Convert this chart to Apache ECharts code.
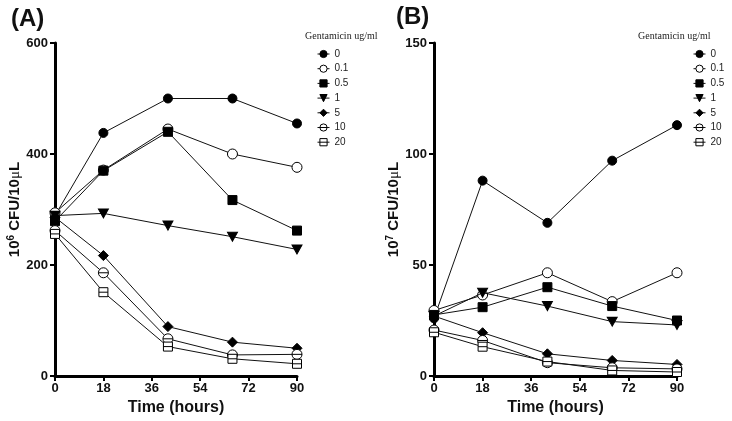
<!DOCTYPE html>
<html>
<head>
<meta charset="utf-8">
<script src="https://cdn.jsdelivr.net/npm/echarts@6/dist/echarts.min.js"></script>
<style>html,body{margin:0;padding:0;background:#fff}#c{width:732px;height:421px}</style>
</head>
<body>
<div id="c"></div>
<script>
const times = [0, 18, 42, 66, 90];
const xTicks = [0, 18, 36, 54, 72, 90];
const doses = ['0', '0.1', '0.5', '1', '5', '10', '20'];

// Panel A: 10^6 CFU/10uL
const a0  = [289, 438, 500, 500, 455];
const a01 = [294, 371, 445, 400, 376];
const a05 = [279, 370, 440, 317, 262];
const a1  = [289, 293, 271, 251, 228];
const a5  = [286, 217, 89, 61, 50];
const a10 = [262, 186, 67, 38, 39];
const a20 = [256, 151, 53, 31, 22];

// Panel B: 10^7 CFU/10uL
const b0  = [26, 88, 69, 97, 113];
const b01 = [29.5, 36.5, 46.5, 33.5, 46.5];
const b05 = [27.5, 31, 40, 31.5, 25];
const b1  = [27, 37.5, 31.5, 24.5, 23];
const b5  = [27, 19.5, 10, 7, 5.2];
const b10 = [20.7, 16, 6, 3.7, 3.2];
const b20 = [19.7, 13.2, 6.5, 2.5, 1.8];

const seriesA = [a0, a01, a05, a1, a5, a10, a20];
const seriesB = [b0, b01, b05, b1, b5, b10, b20];

const FONT = "'Liberation Sans', Arial, sans-serif";
const styles = [
  {symbol: 'circle', size: 9, fill: '#000'},
  {symbol: 'circle', size: 10, fill: '#fff'},
  {symbol: 'rect', size: 9, fill: '#000'},
  {symbol: 'triangle', size: [10, 9], fill: '#000', rotate: 180},
  {symbol: 'diamond', size: [10, 10], fill: '#000'},
  {symbol: 'path://M0,5A5,5,0,1,1,10,5A5,5,0,1,1,0,5ZM0,5L10,5', size: 10, fill: '#fff'},
  {symbol: 'path://M0,0L10,0L10,10L0,10ZM0,5L10,5', size: 9, fill: '#fff'}
];

function mk(data, i, idx) {
  const s = styles[i];
  return {
    name: doses[i], type: 'line', xAxisIndex: idx, yAxisIndex: idx,
    data: times.map((t, k) => [t, data[k]]),
    symbol: s.symbol, symbolSize: s.size, symbolRotate: s.rotate || 0,
    itemStyle: {color: s.fill, borderColor: '#000', borderWidth: 1},
    lineStyle: {color: '#111', width: 1},
    z: 2 + i, animation: false
  };
}

const series = [];
seriesA.forEach((d, i) => series.push(mk(d, i, 0)));
seriesB.forEach((d, i) => series.push(mk(d, i, 1)));

function xAx(gi) {
  return {
    type: 'value', gridIndex: gi, min: 0, max: 90, interval: 18,
    name: 'Time (hours)', nameLocation: 'middle', nameGap: 22,
    nameTextStyle: {fontFamily: FONT, fontWeight: 'bold', fontSize: 16, color: '#111'},
    axisLine: {show: true, lineStyle: {color: '#000', width: 3}},
    axisTick: {show: true, length: 5, lineStyle: {color: '#000', width: 2}},
    axisLabel: {fontFamily: FONT, fontWeight: 'bold', fontSize: 13, color: '#111', margin: 6,
      formatter: v => xTicks.indexOf(v) >= 0 ? String(v) : ''},
    splitLine: {show: false}
  };
}
function yAx(gi, max, interval, exp, gap) {
  return {
    type: 'value', gridIndex: gi, min: 0, max: max, interval: interval,
    name: '{b|10}{s|' + exp + '}{b| CFU/10}{m|μ}{b|L}', nameLocation: 'middle', nameGap: gap, nameRotate: 90,
    nameTextStyle: {
      rich: {
        b: {fontFamily: FONT, fontWeight: 'bold', fontSize: 15, color: '#111'},
        s: {fontFamily: FONT, fontWeight: 'bold', fontSize: 10, color: '#111', verticalAlign: 'bottom', padding: [0, 0, 7, 0]},
        m: {fontFamily: "'Liberation Serif', serif", fontSize: 15, color: '#111'}
      }
    },
    axisLine: {show: true, lineStyle: {color: '#000', width: 3}},
    axisTick: {show: true, length: 5, lineStyle: {color: '#000', width: 2}},
    axisLabel: {fontFamily: FONT, fontWeight: 'bold', fontSize: 13, color: '#111', margin: 7},
    splitLine: {show: false}
  };
}
function lg(left) {
  return {
    orient: 'vertical', left: left, top: 44, itemWidth: 12, itemHeight: 9, itemGap: 4.7,
    selectedMode: false, data: doses,
    itemStyle: {borderWidth: 1},
    lineStyle: {width: 1},
    textStyle: {fontFamily: FONT, fontSize: 10, color: '#222'}
  };
}

const chart = echarts.init(document.getElementById('c'), null, {renderer: 'canvas'});
chart.setOption({
  backgroundColor: '#fff',
  animation: false,
  title: [
    {text: '(A)', left: 6, top: 2, textStyle: {fontFamily: FONT, fontWeight: 'bold', fontSize: 24, color: '#111'}},
    {text: '(B)', left: 391, top: 0, textStyle: {fontFamily: FONT, fontWeight: 'bold', fontSize: 24, color: '#111'}},
    {text: 'Gentamicin ug/ml', left: 300, top: 26, textStyle: {fontFamily: "'Liberation Serif', serif", fontWeight: 'normal', fontSize: 10, color: '#222'}},
    {text: 'Gentamicin ug/ml', left: 633, top: 26, textStyle: {fontFamily: "'Liberation Serif', serif", fontWeight: 'normal', fontSize: 10, color: '#222'}}
  ],
  grid: [
    {left: 55, right: 435, top: 43, bottom: 45},
    {left: 434, right: 55, top: 43, bottom: 45}
  ],
  xAxis: [xAx(0), xAx(1)],
  yAxis: [yAx(0, 600, 200, '6', 26), yAx(1, 150, 50, '7', 31)],
  legend: [lg(312), lg(688)],
  series: series
});
</script>
</body>
</html>
